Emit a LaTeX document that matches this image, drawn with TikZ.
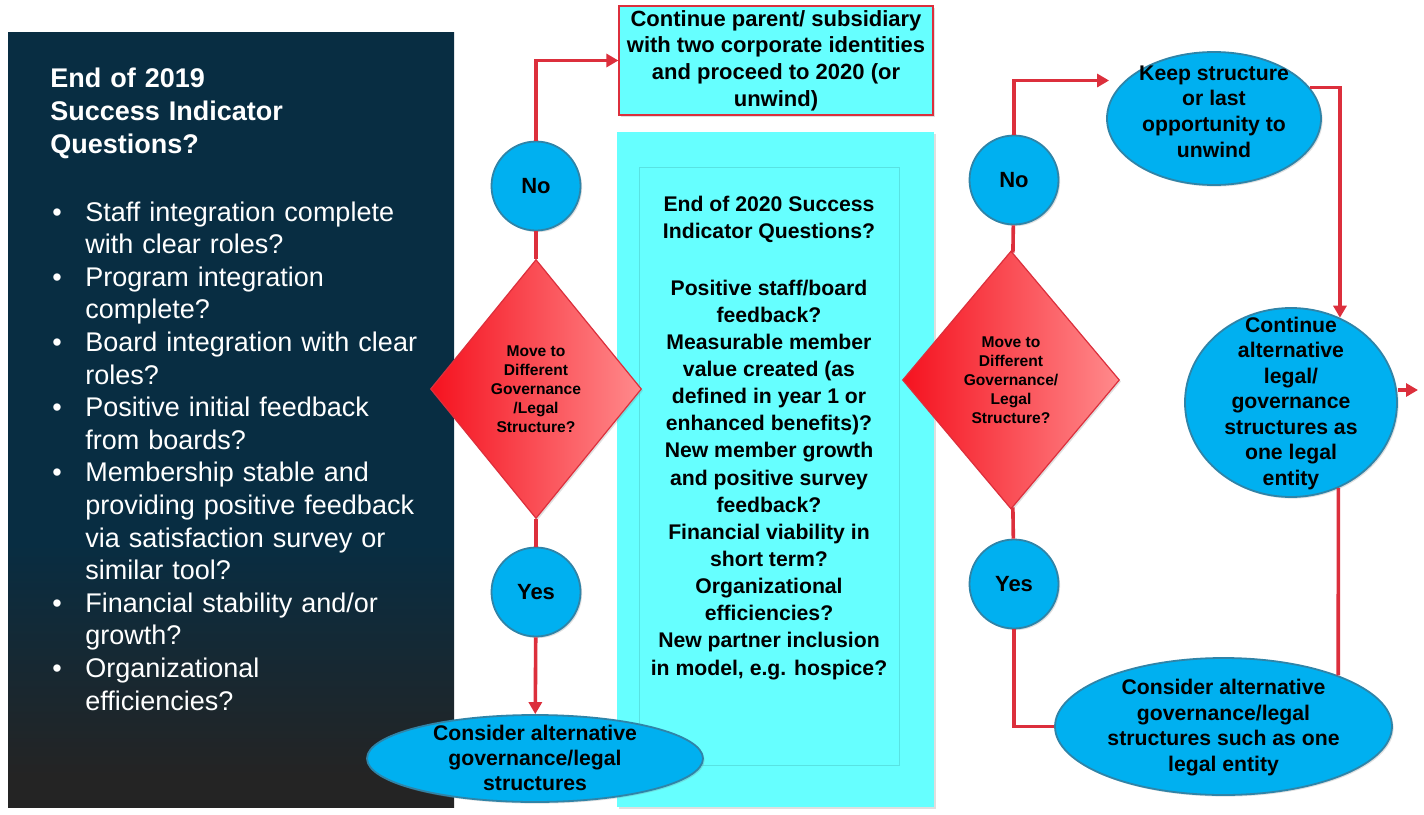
\documentclass[tikz,border=0pt]{standalone}
\usepackage{fontspec}
\setmainfont{Liberation Sans}
\usepackage{xcolor}
\usepackage{tikz}
\usetikzlibrary{arrows.meta,positioning,shapes.geometric,calc,shadows}

\definecolor{panelTop}{HTML}{082D42}
\definecolor{panelBot}{HTML}{242424}
\definecolor{bandCyan}{HTML}{66FFFF}
\definecolor{bandEdge}{HTML}{58E2E2}
\definecolor{bubbleBlue}{HTML}{00B0F0}
\definecolor{bubbleEdge}{HTML}{2F84A8}
\definecolor{flowRed}{HTML}{DC2F3C}
\definecolor{diaLeft}{HTML}{F5121F}
\definecolor{diaRight}{HTML}{FF8A8C}

% navy panel fading to dark grey at the bottom
\pgfdeclareverticalshading{panelfade}{100bp}{color(0bp)=(panelBot); color(27bp)=(panelBot); color(42bp)=(panelTop); color(100bp)=(panelTop)}

% bullet line with hanging indent
\newcommand\qitem[1]{\par\hangindent=17.5pt\hangafter=1\noindent\makebox[17.5pt][l]{\hspace{1pt}\textbullet}#1}

\begin{document}
\begin{tikzpicture}[x=0.5pt,y=-0.5pt,>={Triangle[length=6pt,width=6.5pt]},
  every node/.style={font=\bfseries},
  soft/.style={drop shadow={opacity=.25,shadow xshift=.8pt,shadow yshift=-.8pt}},
  flow/.style={draw=flowRed,line width=1.8pt},
  bubble/.style={circle,draw=bubbleEdge,line width=.9pt,fill=bubbleBlue,minimum size=44.5pt,inner sep=0pt,soft,font=\fontsize{11}{13}\selectfont\bfseries},
  oval/.style={ellipse,draw=bubbleEdge,line width=.9pt,fill=bubbleBlue,inner sep=0pt,soft},
  ovaltext/.style={align=center,inner sep=0pt,font=\fontsize{10.6}{12.8}\selectfont\bfseries},
  choice/.style={diamond,draw=flowRed,line width=.6pt,left color=diaLeft,right color=diaRight,inner sep=0pt,soft,align=center,font=\fontsize{7.8}{9.5}\selectfont\bfseries},
  panel text/.style={anchor=north west,inner sep=0pt,text width=195pt,align=left,text=white,font=\fontsize{13.5}{16.3}\selectfont}]
\useasboundingbox (0,0) rectangle (1424,814);
\fill[white] (0,0) rectangle (1424,814);

% left panel and centre band
\path[shading=panelfade] (8,32) rectangle (454,807);
\fill[bandCyan,soft] (617,132) rectangle (934,807);
\filldraw[draw=bandEdge,fill=bandCyan,line width=.5pt] (639,167) rectangle (899,765);

\node[panel text] (q19) at (50,68) {{\bfseries End of 2019\\Success Indicator\\Questions?}\par\vspace{17.7pt}
  \qitem{Staff integration complete\newline with clear roles?}
  \qitem{Program integration\newline complete?}
  \qitem{Board integration with clear\newline roles?}
  \qitem{Positive initial feedback\newline from boards?}
  \qitem{Membership stable and\newline providing positive feedback\newline via satisfaction survey or\newline similar tool?}
  \qitem{Financial stability and/or\newline growth?}
  \qitem{Organizational\newline efficiencies?}\par};

\node[align=center,inner sep=0pt,font=\fontsize{10.6}{13.57}\selectfont\bfseries] (q20) at (769,438)
  {End of 2020 Success\\Indicator Questions?\\[14.5pt]Positive staff/board\\feedback?\\Measurable member\\value created (as\\defined in year 1 or\\enhanced benefits)?\\New member growth\\and positive survey\\feedback?\\Financial viability in\\short term?\\Organizational\\efficiencies?\\New partner inclusion\\in model, e.g. hospice?};

\node[draw=flowRed,line width=.6pt,fill=bandCyan,soft,minimum width=157pt,minimum height=54.5pt,inner sep=0pt,align=center,font=\fontsize{11}{13.3}\selectfont\bfseries] (stay) at (776,60.5)
  {Continue parent/ subsidiary\\with two corporate identities\\and proceed to 2020 (or\\unwind)};

% first year decision
\node[bubble] (no19) at (536,186) {No};
\node[choice,minimum width=105.5pt,minimum height=129.5pt] (move19) at (536,389) {Move to\\Different\\Governance\\/Legal\\Structure?};
\node[bubble] (yes19) at (536,592) {Yes};
\node[oval,minimum width=168pt,minimum height=43.5pt] (alt19) at (535,758.5) {};
\node[ovaltext,font=\fontsize{10.6}{12.5}\selectfont\bfseries] (alt19t) at (535,758) {Consider alternative\\governance/legal\\structures};

% second year decision
\node[bubble] (no20) at (1014,180) {No};
\node[choice,minimum width=108.5pt,minimum height=129pt] (move20) at (1011,380) {Move to\\Different\\Governance/\\Legal\\Structure?};
\node[bubble] (yes20) at (1014,584) {Yes};
\node[oval,minimum width=107pt,minimum height=66.5pt] (keep20) at (1214,118.5) {};
\node[ovaltext] (keep20t) at (1214,111.5) {Keep structure\\or last\\opportunity to\\unwind};
\node[oval,minimum width=106pt,minimum height=94.5pt] (legal20) at (1291,402.5) {};
\node[ovaltext,font=\fontsize{10.6}{12.75}\selectfont\bfseries] (legal20t) at (1291,403.5) {Continue\\alternative\\legal/\\governance\\structures as\\one legal\\entity};
\node[oval,minimum width=168.5pt,minimum height=68.5pt] (alt20) at (1223.5,726.5) {};
\node[ovaltext] (alt20t) at (1223.5,727.5) {Consider alternative\\governance/legal\\structures such as one\\legal entity};

\coordinate (keep20in) at ($(keep20.west)+(3,-38)$);
\coordinate (out20) at (1418,390);

\draw[flow,->] (no19.north) |- (stay.west);
\draw[flow] (no19) -- (move19);
\draw[flow] (move19) -- (yes19);
\draw[flow,->] (yes19) -- (alt19);
\draw[flow,->] (no20.north) |- (keep20in);
\draw[flow] (no20) -- (move20);
\draw[flow] (move20) -- (yes20);
\draw[flow] (yes20.south) |- (alt20.west);
\draw[flow,->] (keep20.18) -| (legal20.60);
\draw[flow] (legal20.-61) -- (alt20.24);
\draw[flow,->] (out20 -| legal20.east) -- (out20);
\end{tikzpicture}
\end{document}
